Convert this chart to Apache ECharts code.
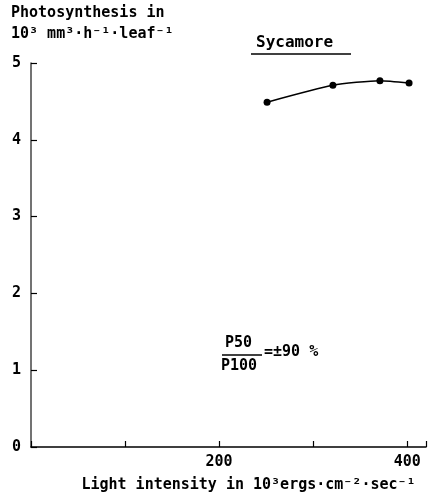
<!DOCTYPE html>
<html lang="en">
<head>
    <meta charset="UTF-8">
    <title>Sycamore</title>
    <script src="https://cdn.jsdelivr.net/npm/echarts@6/dist/echarts.min.js"></script>
</head>
<body style="margin:0">
<div id="chart" style="width: 429px;height: 498px;"></div>
<script>
    // light intensity (10^3 ergs/cm2/sec) vs photosynthesis (10^3 mm3/h/leaf)
    var lightIntensity = [251, 321, 371, 402];
    var photosynthesis = [4.49, 4.71, 4.77, 4.74];
    var xLabelsShown = [200, 400];

    var points = lightIntensity.map(function (x, i) {
        return [x, photosynthesis[i]];
    });

    var font = 'DejaVu Sans Mono';
    var txt = function (size) {
        return 'bold ' + size + 'px "DejaVu Sans Mono"';
    };
    var myChart = echarts.init(document.getElementById('chart'));
    var option = {
        backgroundColor: '#fff',
        animation: false,
        textStyle: {fontFamily: font, color: '#000', fontWeight: 'bold'},
        grid: {left: 31, right: 2, top: 63, bottom: 51},
        xAxis: {
            type: 'value',
            min: 0,
            max: 420,
            interval: 100,
            splitLine: {show: false},
            axisLine: {lineStyle: {color: '#000', width: 1.5}},
            axisTick: {inside: true, length: 6, lineStyle: {color: '#000', width: 1.2}},
            axisLabel: {
                color: '#000',
                fontSize: 15,
                fontWeight: 'bold',
                margin: 8,
                formatter: function (v) {
                    return xLabelsShown.indexOf(v) >= 0 ? String(v) : '';
                }
            },
            name: 'Light intensity in 10³ergs·cm⁻²·sec⁻¹',
            nameLocation: 'middle',
            nameGap: 31,
            nameTextStyle: {fontSize: 15, fontWeight: 'bold', color: '#000', padding: [0, 0, 0, 40]}
        },
        yAxis: {
            type: 'value',
            min: 0,
            max: 5,
            interval: 1,
            splitLine: {show: false},
            axisLine: {lineStyle: {color: '#444', width: 1.5}},
            axisTick: {inside: true, length: 6, lineStyle: {color: '#000', width: 1.2}},
            axisLabel: {color: '#000', fontSize: 15, fontWeight: 'bold', margin: 10}
        },
        graphic: [
            {
                type: 'text', left: 11, top: 6,
                style: {text: 'Photosynthesis in', font: txt(15), fill: '#000'}
            },
            {
                type: 'text', left: 11, top: 27,
                style: {text: '10³ mm³·h⁻¹·leaf⁻¹', font: txt(15), fill: '#000'}
            },
            {
                type: 'text', left: 256, top: 35,
                style: {text: 'Sycamore', font: txt(16), fill: '#000'}
            },
            {
                type: 'line', shape: {x1: 251, y1: 54, x2: 351, y2: 54},
                style: {stroke: '#000', lineWidth: 1.3}
            },
            {
                type: 'text', left: 225, top: 336,
                style: {text: 'P50', font: txt(15), fill: '#000'}
            },
            {
                type: 'line', shape: {x1: 222, y1: 355, x2: 262, y2: 355},
                style: {stroke: '#000', lineWidth: 1.3}
            },
            {
                type: 'text', left: 221, top: 359,
                style: {text: 'P100', font: txt(15), fill: '#000'}
            },
            {
                type: 'text', left: 264, top: 345,
                style: {text: '=±90 %', font: txt(15), fill: '#000'}
            }
        ],
        series: [{
            type: 'line',
            data: points,
            smooth: 0.2,
            symbol: 'circle',
            symbolSize: 7,
            itemStyle: {color: '#000'},
            lineStyle: {color: '#000', width: 1.5}
        }]
    };
    myChart.setOption(option);
</script>
</body>
</html>
